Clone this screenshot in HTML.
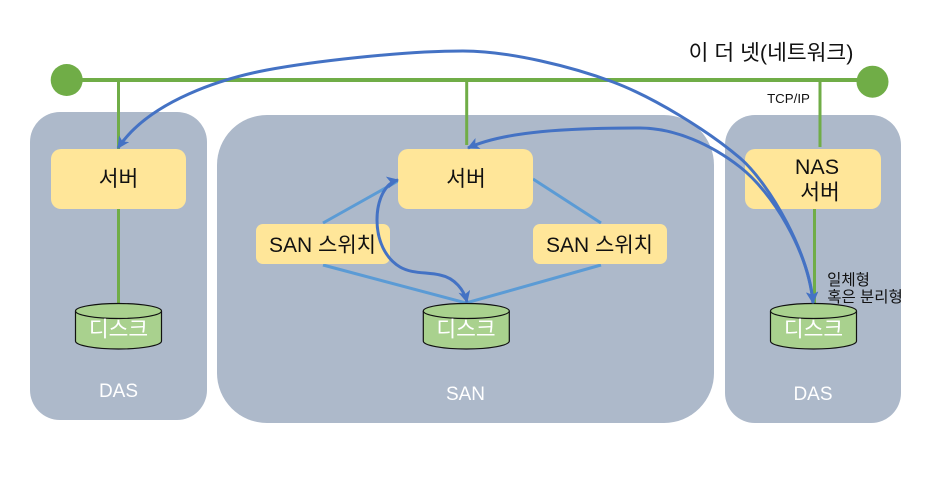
<!DOCTYPE html>
<html><head><meta charset="utf-8"><style>
html,body{margin:0;padding:0;background:#fff}
svg{display:block}
text{font-family:"Liberation Sans","Noto Sans CJK KR","NanumGothic",sans-serif;text-anchor:middle}
.b{font-size:21.500px;fill:#111}
.w{font-size:21px;fill:#111}
.d{font-size:21.500px;fill:#fff}
.s{font-size:15.500px;fill:#111}
.l{font-size:19px;fill:#fff}
</style></head><body>
<svg width="950" height="484" viewBox="0 0 950 484" xmlns="http://www.w3.org/2000/svg">
<defs><marker id="a" markerUnits="userSpaceOnUse" markerWidth="14" markerHeight="14" refX="11" refY="6" orient="auto-start-reverse"><path d="M0 0L12 6L0 12L3 6Z" fill="#4472c4"/></marker></defs>
<rect x="30" y="112" width="177" height="308" rx="30" fill="#adb9ca"/>
<rect x="217" y="115" width="497" height="308" rx="50" fill="#adb9ca"/>
<rect x="725" y="115" width="176" height="308" rx="30" fill="#adb9ca"/>
<path d="M67 80H873" stroke="#70ad47" stroke-width="4" fill="none"/>
<g stroke="#70ad47" stroke-width="3" fill="none">
<path d="M118.500 82V149M118.500 207V303M466.700 82V145M820 82V147M814.500 208V303"/>
</g>
<circle cx="66.700" cy="80" r="16" fill="#70ad47"/>
<circle cx="872.500" cy="81.700" r="16" fill="#70ad47"/>
<g stroke="#5b9bd5" stroke-width="3" fill="none">
<path d="M323 223L398 181M533 179L601 223M323 265L466 303L601 265"/>
</g>
<g fill="#ffe699">
<rect x="51" y="149" width="135" height="60" rx="10"/>
<rect x="398" y="149" width="135" height="60" rx="10"/>
<rect x="745" y="149" width="136" height="60" rx="10"/>
<rect x="256" y="224" width="134" height="40" rx="7"/>
<rect x="533" y="224" width="134" height="40" rx="7"/>
</g>
<g fill="#a9d18e" stroke="#111" stroke-width="1.200">
<path d="M75.500 311V341C75.500 345.500 95 349 118.500 349S161.500 345.500 161.500 341V311"/>
<ellipse cx="118.500" cy="311" rx="43" ry="7.500"/>
<path d="M423.300 311V341C423.300 345.500 442.800 349 466.300 349S509.300 345.500 509.300 341V311"/>
<ellipse cx="466.300" cy="311" rx="43" ry="7.500"/>
<path d="M770.500 311V341C770.500 345.500 790 349 813.500 349S856.500 345.500 856.500 341V311"/>
<ellipse cx="813.500" cy="311" rx="43" ry="7.500"/>
</g>
<g fill="none" stroke="#4472c4" stroke-width="3" marker-start="url(#a)" marker-end="url(#a)">
<path d="M813 303C810 255 770 184 740 158C707 130 653 97 613 82C573 67 510 51 463 51C400 51 310 62 267 70C225 78 150 100 118 148"/>
<path d="M813 303C808 250 772 192 740 167C712 145 675 128 640 128C570 128 505 131 468 148"/>
<path d="M398 180C385 183 377 200 377 220C377 240 385 258 400 267C412 274 427 272 440 275C455 278 464 290 467 302"/>
</g>
<text class="b" x="118.500" y="186">서버</text>
<text class="b" x="466" y="186">서버</text>
<text class="b" x="817" y="174">NAS</text>
<text class="b" x="820" y="199.500">서버</text>
<text class="w" x="322.500" y="252">SAN 스위치</text>
<text class="w" x="599.500" y="252">SAN 스위치</text>
<text class="d" x="118.500" y="336.500">디스크</text>
<text class="d" x="466" y="336.500">디스크</text>
<text class="d" x="813.500" y="336.500">디스크</text>
<text class="l" x="118.500" y="397">DAS</text>
<text class="l" x="465.500" y="400">SAN</text>
<text class="l" x="813" y="400">DAS</text>
<text x="771" y="60" style="font-size:21.500px;fill:#111">이 더 넷(네트워크)</text>
<text x="788.500" y="103" style="font-size:13.300px;fill:#111">TCP/IP</text>
<text class="s" x="848.500" y="285">일체형</text>
<text class="s" x="865" y="302">혹은 분리형</text>
</svg>
</body></html>
